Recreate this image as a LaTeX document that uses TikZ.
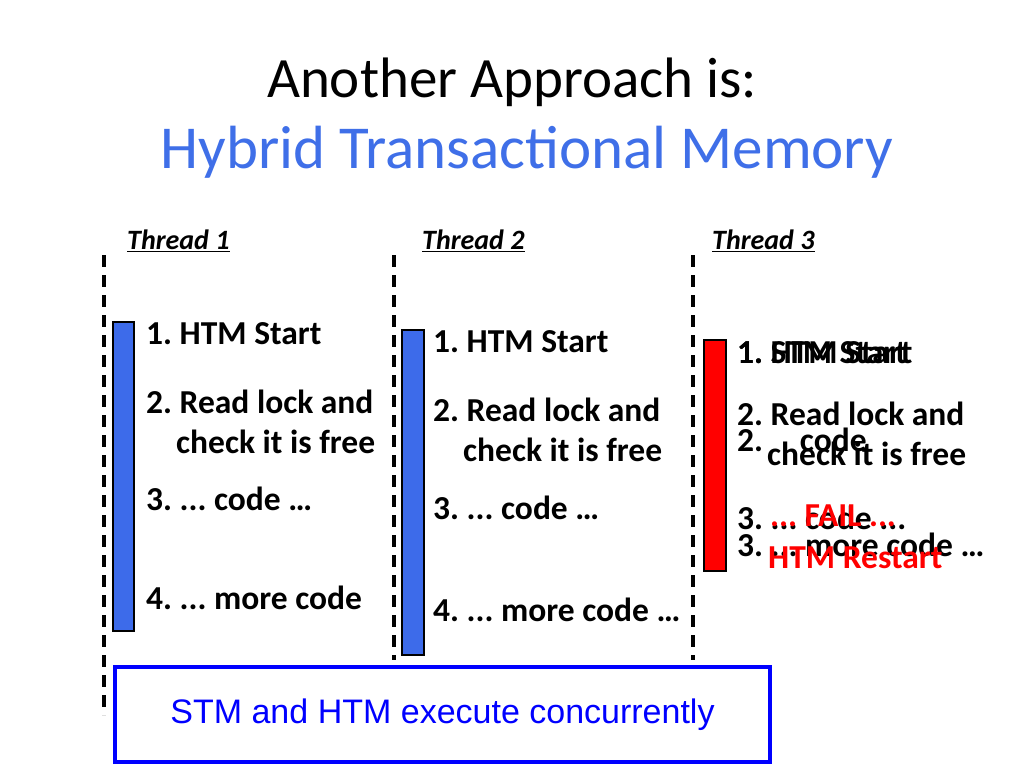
\documentclass[tikz,border=0pt]{standalone}
\usepackage{fontspec}
\setmainfont{Carlito}
\newfontfamily\arialf{Liberation Sans}
\usetikzlibrary{positioning}
\definecolor{tblue}{HTML}{3F6FE8}
\definecolor{barblue}{HTML}{3D6BEA}
\frenchspacing
\begin{document}
\begin{tikzpicture}[x=1pt,y=-1pt,
  body/.style={anchor=west,inner sep=0pt,font=\fontsize{33.5}{36}\selectfont\bfseries},
  redt/.style={body,text=red},
  thr/.style={anchor=west,inner sep=0pt,font=\fontsize{28}{30}\selectfont\bfseries\itshape},
  lane/.style={line width=3.5pt,dash pattern=on 12pt off 8pt},
  bar/.style={draw=black,line width=2pt}]
\useasboundingbox (0,0) rectangle (1024,768);
\node[font=\fontsize{57}{60}\selectfont] (t1) at (512,82) {Another Approach is:};
\node[font=\fontsize{61}{64}\selectfont,text=tblue] (t2) at (527,152) {Hybrid Transactional Memory};
\node[thr] (h1) at (127,241) {\underline{Thread 1}};
\node[thr] (h2) at (422,241) {\underline{Thread 2}};
\node[thr] (h3) at (712,241) {\underline{Thread 3}};
\coordinate (l1a) at (104,255); \coordinate (l1b) at (104,715);
\coordinate (l2a) at (394,255); \coordinate (l2b) at (394,660);
\coordinate (l3a) at (693,255); \coordinate (l3b) at (693,660);
\draw[lane] (l1a) -- (l1b);
\draw[lane] (l2a) -- (l2b);
\draw[lane] (l3a) -- (l3b);
\draw[bar,fill=barblue] (113,322) rectangle (134,631);
\draw[bar,fill=barblue] (402,330) rectangle (424,655);
\draw[bar,fill=red] (704,340) rectangle (726,571);
\node[body] (a1) at (146,334) {1. HTM Start};
\node[body] (a2) at (146,402) {2. Read lock and};
\node[body] (a3) at (176,442) {check it is free};
\node[body] (a4) at (146,499) {3. ... code …};
\node[body] (a5) at (146,598) {4. ... more code};
\node[body] (b1) at (433,342) {1. HTM Start};
\node[body] (b2) at (433,410) {2. Read lock and};
\node[body] (b3) at (463,450) {check it is free};
\node[body] (b4) at (433,508) {3. ... code …};
\node[body] (b5) at (433,610) {4. ... more code …};
\node[body] (c1) at (737,353) {1. HTM Start};
\node[body] (c1b) at (737,353) {1. STM Start};
\node[body] (c2) at (737,414) {2. Read lock and};
\node[body] (c2b) at (737,440) {2.\hspace{1.1em}code};
\node[body] (c3) at (767,454) {check it is free};
\node[body] (c4) at (737,518) {3. ... code ...};
\node[redt] (c4r) at (770,516) {... FAIL ...};
\node[body] (c5) at (737,545) {3. ... more code …};
\node[redt] (c5r) at (768,558) {HTM Restart};
\node[draw=blue,line width=3.5pt,minimum width=655pt,minimum height=95pt,
  font=\arialf\fontsize{34}{38}\selectfont,text=blue] (box) at (442.5,714.5) {STM and HTM execute concurrently};
\end{tikzpicture}
\end{document}
